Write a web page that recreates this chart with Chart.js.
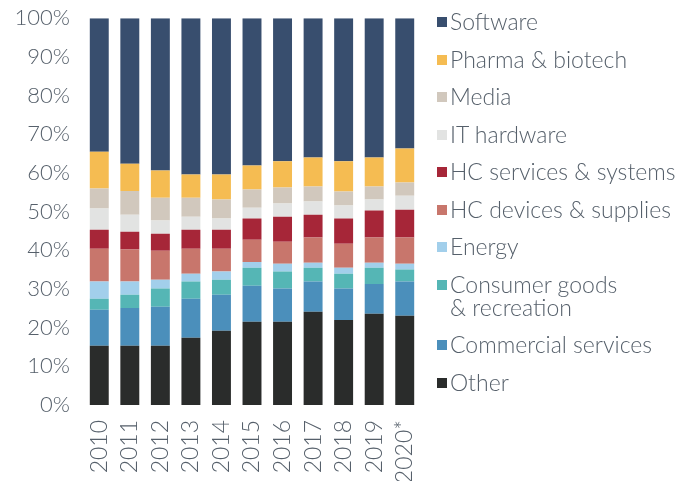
<!DOCTYPE html>
<html>
<head>
<meta charset="utf-8">
<script src="https://cdn.jsdelivr.net/npm/chart.js@4"></script>
<style>
    body { margin: 0; background: #fff; }
    #wrap { position: relative; width: 700px; height: 481px; }
    #legend {
        position: absolute; left: 437px; top: 10px;
        font-family: Lato, sans-serif; font-weight: 300; font-size: 23px;
        color: #56606b; line-height: 23px;
    }
    .item { display: flex; align-items: flex-start; margin-bottom: 14.5px; }
    .box { width: 10px; height: 10px; margin-top: 7px; margin-right: 3px; flex: none; }
</style>
</head>
<body>
<div id="wrap">
    <canvas id="chart" width="700" height="481"></canvas>
    <div id="legend"></div>
</div>
<script>
const years = ['2010', '2011', '2012', '2013', '2014', '2015', '2016', '2017', '2018', '2019', '2020*'];

// shares in %
const other       = [15.3, 15.3, 15.3, 17.4, 19.2, 21.5, 21.5, 24.1, 22.0, 23.6, 23.1];
const commercial  = [9.3, 9.8, 10.1, 10.1, 9.3, 9.3, 8.6, 7.8, 8.1, 7.7, 8.8];
const consumer    = [2.9, 3.4, 4.7, 4.4, 3.9, 4.7, 4.4, 3.6, 3.8, 4.2, 3.1];
const energy      = [4.4, 3.4, 2.3, 2.0, 2.1, 1.5, 2.0, 1.3, 1.6, 1.3, 1.5];
const hcDevices   = [8.5, 8.3, 7.5, 6.5, 5.9, 5.7, 5.7, 6.5, 6.2, 6.5, 6.8];
const hcServices  = [4.9, 4.6, 4.4, 4.9, 4.9, 5.5, 6.5, 5.9, 6.5, 7.0, 7.2];
const itHardware  = [5.5, 4.4, 3.4, 3.4, 2.9, 2.8, 3.4, 3.4, 3.4, 2.8, 3.6];
const media       = [5.2, 6.1, 5.9, 4.9, 4.9, 4.7, 4.1, 3.9, 3.6, 3.4, 3.4];
const pharma      = [9.5, 7.1, 7.0, 6.0, 6.5, 6.2, 6.8, 7.5, 7.8, 7.5, 8.8];
const software    = [34.5, 37.6, 39.4, 40.4, 40.4, 38.1, 37.0, 36.0, 37.0, 36.0, 33.7];

const series = [
    { label: ['Other'], data: other, color: '#2a2c2b' },
    { label: ['Commercial services'], data: commercial, color: '#4b8fbb' },
    { label: ['Consumer goods', '& recreation'], data: consumer, color: '#55b6b5' },
    { label: ['Energy'], data: energy, color: '#a2cfeb' },
    { label: ['HC devices & supplies'], data: hcDevices, color: '#c8766c' },
    { label: ['HC services & systems'], data: hcServices, color: '#a62638' },
    { label: ['IT hardware'], data: itHardware, color: '#e2e3e2' },
    { label: ['Media'], data: media, color: '#d1c8bd' },
    { label: ['Pharma & biotech'], data: pharma, color: '#f5bc52' },
    { label: ['Software'], data: software, color: '#384e6e' },
];

const textColor = '#56606b';

new Chart(document.getElementById('chart'), {
    type: 'bar',
    data: {
        labels: years,
        datasets: series.map(s => ({
            label: s.label.join(' '),
            data: s.data,
            backgroundColor: s.color,
            borderWidth: 0,
            barPercentage: 0.62,
            categoryPercentage: 1,
        }))
    },
    options: {
        responsive: false,
        animation: false,
        layout: { padding: { top: 0, right: 280, bottom: 0, left: 0 } },
        plugins: { legend: { display: false }, tooltip: { enabled: false } },
        scales: {
            x: {
                stacked: true,
                grid: { display: false, drawTicks: false },
                border: { display: false },
                ticks: {
                    color: textColor, font: { family: 'Lato, sans-serif', size: 23, weight: 300 },
                    minRotation: 90, maxRotation: 90, padding: 15, autoSkip: false
                },
                afterFit: s => { s.height = 76; },
            },
            y: {
                stacked: true,
                min: 0,
                max: 100,
                // tick marks are hidden; tickLength only moves the labels away from the bars
                grid: { display: false, drawTicks: true, tickLength: 9 },
                border: { display: false },
                ticks: {
                    stepSize: 10, color: textColor, font: { family: 'Lato, sans-serif', size: 22, weight: 300 },
                    padding: 5, callback: v => v + '%'
                },
                afterFit: s => { s.width = 84; },
            }
        }
    }
});

// legend, top to bottom in reverse stack order
const legend = document.getElementById('legend');
series.slice().reverse().forEach(s => {
    const item = document.createElement('div');
    item.className = 'item';
    const box = document.createElement('span');
    box.className = 'box';
    box.style.background = s.color;
    const text = document.createElement('span');
    text.innerHTML = s.label.join('<br>');
    item.appendChild(box);
    item.appendChild(text);
    legend.appendChild(item);
});
</script>
</body>
</html>
